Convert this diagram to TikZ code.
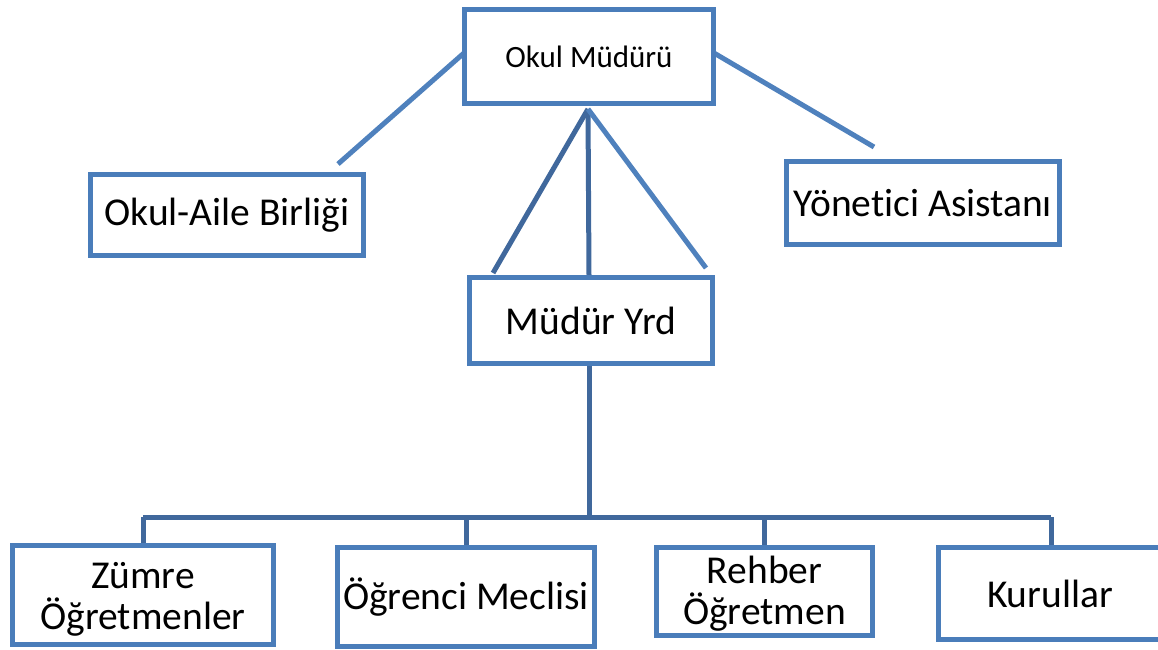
\documentclass[tikz,border=0pt]{standalone}
\usepackage{fontspec}
\setmainfont{Carlito}[Ligatures=NoCommon]
\usetikzlibrary{calc}
\definecolor{boxc}{RGB}{74,125,186}
\definecolor{linec}{RGB}{79,129,189}
\definecolor{darkc}{RGB}{64,104,156}
\begin{document}
\begin{tikzpicture}[x=1pt,y=-1pt,
  orgbox/.style={draw=boxc,line width=5pt,fill=white,rectangle,inner sep=0pt,align=center,
    font=\fontsize{39.5}{42}\selectfont},
  txt/.style={inner sep=0pt,align=center,font=\fontsize{39.5}{41}\selectfont},
  conn/.style={draw=linec,line width=5pt},
  darkconn/.style={draw=darkc,line width=5pt}]
\useasboundingbox (0,0) rectangle (1158,649);
% connectors first (behind boxes)
\coordinate (apex) at (588,109);
\coordinate (omL) at (464,53);
\coordinate (omR) at (714,53);
\coordinate (oaEnd) at (338,164);
\coordinate (yaEnd) at (874,147);
\coordinate (myL) at (493,273);
\coordinate (myM) at (589,276);
\coordinate (myR) at (706,268);
\coordinate (myB) at (589,364);
\coordinate (bus) at (589,517);
\coordinate (busL) at (143,517);
\coordinate (busR) at (1051,517);
\coordinate (d1) at (143,545);
\coordinate (d2) at (466,547);
\coordinate (d3) at (764,547);
\coordinate (d4) at (1051,547);
\coordinate (b2) at (466,517);
\coordinate (b3) at (764,517);

\draw[conn] (omL) -- (oaEnd);
\draw[conn] (omR) -- (yaEnd);
\draw[darkconn] (apex) -- (myL);
\draw[darkconn] (apex) -- (myM);
\draw[conn] (apex) -- (myR);
\draw[darkconn] (myB) -- (bus);
\draw[darkconn] (busL) -- (busR);
\draw[darkconn] (busL) -- (d1);
\draw[darkconn] (b2) -- (d2);
\draw[darkconn] (b3) -- (d3);
\draw[darkconn] (busR) -- (d4);

\node[orgbox,minimum width=249pt,minimum height=94pt,font=\fontsize{31}{34}\selectfont] (om) at (589,56.5) {Okul Müdürü};
\node[orgbox,minimum width=273pt,minimum height=81pt] (oa) at (227,215) {Okul-Aile Birliği};
\node[orgbox,minimum width=273pt,minimum height=83pt] (ya) at (923,203) {Yönetici Asistanı};
\node[orgbox,minimum width=243pt,minimum height=86pt] (my) at (591,320.5) {Müdür Yrd};
\node[orgbox,minimum width=261pt,minimum height=99pt] (zo) at (143,595) {};
\node[txt] (zotext) at ($(zo.center)+(0,4)$) {Zümre\\Öğretmenler};
\node[orgbox,minimum width=257pt,minimum height=99pt] (og) at (466,597) {Öğrenci Meclisi};
\node[orgbox,minimum width=216pt,minimum height=88pt] (rh) at (764.5,591.5) {};
\node[txt] (rhtext) at ($(rh.center)+(0,2)$) {Rehber\\Öğretmen};
\node[orgbox,minimum width=224pt,minimum height=92pt] (ku) at (1050,593.5) {Kurullar};
\end{tikzpicture}
\end{document}
